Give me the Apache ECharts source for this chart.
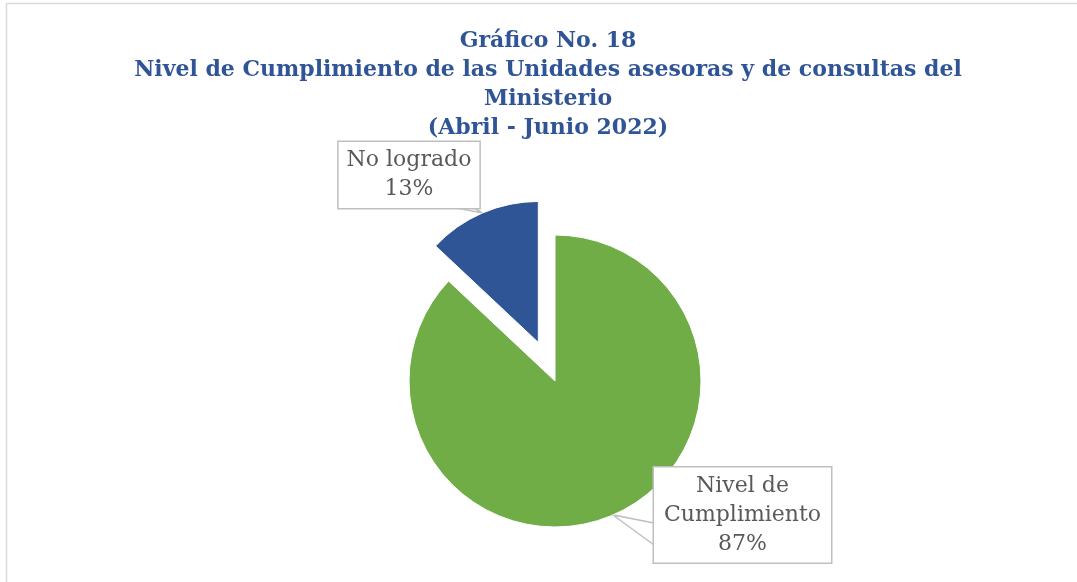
<!DOCTYPE html>
<html>
<head>
<meta charset="utf-8">
<script src="https://cdn.jsdelivr.net/npm/echarts@6/dist/echarts.min.js"></script>
<style>
  html, body { margin: 0; padding: 0; background: #fff; }
  #chart { width: 1077px; height: 582px; }
</style>
</head>
<body>
<div id="chart"></div>
<script>
const titleLines = [
  'Gráfico No. 18',
  'Nivel de Cumplimiento de las Unidades asesoras y de consultas del',
  'Ministerio',
  '(Abril - Junio 2022)'
];
const categories = ['Nivel de Cumplimiento', 'No logrado'];
const values = [87, 13];
const colors = ['#70AD47', '#2F5597'];

const chart = echarts.init(document.getElementById('chart'), null, { renderer: 'canvas' });

const FONT = 'DejaVu Serif';
const CENTER = [555, 381];
const R1 = 146, R2 = 141;
const EXPLODE = 42;

const total = values.reduce((a, b) => a + b, 0);
const mid0 = (values[0] / 2) / total * 2 * Math.PI;
const mid1 = (values[0] + values[1] / 2) / total * 2 * Math.PI;
// exploded slice: its pie centre is shifted along the slice's mid angle
const center2 = [CENTER[0] + Math.sin(mid1) * EXPLODE, CENTER[1] - Math.cos(mid1) * EXPLODE];
const tip0 = [CENTER[0] + Math.sin(mid0) * R1, CENTER[1] - Math.cos(mid0) * R1];
const tip1 = [center2[0] + Math.sin(mid1) * R2, center2[1] - Math.cos(mid1) * R2];

// long names wrap at their last space
function wrapName(name) {
  if (name.length <= 12) return name;
  const k = name.lastIndexOf(' ');
  return k > 0 ? name.slice(0, k) + '\n' + name.slice(k + 1) : name;
}

const labelBase = {
  show: true,
  formatter: p => wrapName(p.name) + '\n' + Math.round(p.percent) + '%',
  fontFamily: FONT,
  fontSize: 22,
  lineHeight: 29,
  color: '#595959',
  backgroundColor: '#fff',
  borderColor: '#bfbfbf',
  borderWidth: 1.5,
  align: 'center',
  padding: [4, 8, 4, 8]
};

function buildData(showIndex) {
  return categories.map((name, i) => {
    const visible = i === showIndex;
    return {
      name: name,
      value: values[i],
      itemStyle: {
        color: visible ? colors[i] : 'rgba(0,0,0,0)',
        borderColor: visible ? '#fff' : 'rgba(0,0,0,0)',
        borderWidth: visible ? 1 : 0
      },
      label: visible ? Object.assign({}, labelBase, i === 0 ? { width: 161 } : {}) : { show: false },
      labelLine: { show: visible, lineStyle: { color: '#bfbfbf', width: 1.5 } }
    };
  });
}

// callout boxes (centre) and the callout pointer bases on the box edge
const labelPos = [
  { x: 742.5, y: 515, line: [[654, 523], tip0, [654, 545]] },
  { x: 409, y: 175, line: [[457, 208], tip1, [474, 208]] }
];

chart.setOption({
  animation: false,
  backgroundColor: '#fff',
  title: {
    text: titleLines.join('\n'),
    left: 543,
    top: 22,
    textAlign: 'center',
    textStyle: {
      fontFamily: FONT,
      fontWeight: 'bold',
      fontSize: 22,
      lineHeight: 29,
      color: '#2F5597'
    }
  },
  graphic: [{
    type: 'rect',
    silent: true,
    shape: { x: 6.5, y: 3.5, width: 1090, height: 600 },
    style: { fill: 'none', stroke: '#d9d9d9', lineWidth: 1.5 }
  }],
  series: [
    {
      type: 'pie',
      center: CENTER,
      radius: [0, R1],
      startAngle: 90,
      clockwise: true,
      silent: true,
      selectedMode: false,
      data: buildData(0),
      labelLine: { length: 10, length2: 10 },
      labelLayout: p => ({ x: labelPos[0].x, y: labelPos[0].y, align: 'center', verticalAlign: 'middle', labelLinePoints: labelPos[0].line })
    },
    {
      type: 'pie',
      center: center2,
      radius: [0, R2],
      startAngle: 90,
      clockwise: true,
      silent: true,
      selectedMode: false,
      data: buildData(1),
      labelLine: { length: 10, length2: 10 },
      labelLayout: p => ({ x: labelPos[1].x, y: labelPos[1].y, align: 'center', verticalAlign: 'middle', labelLinePoints: labelPos[1].line })
    }
  ]
});
</script>
</body>
</html>
